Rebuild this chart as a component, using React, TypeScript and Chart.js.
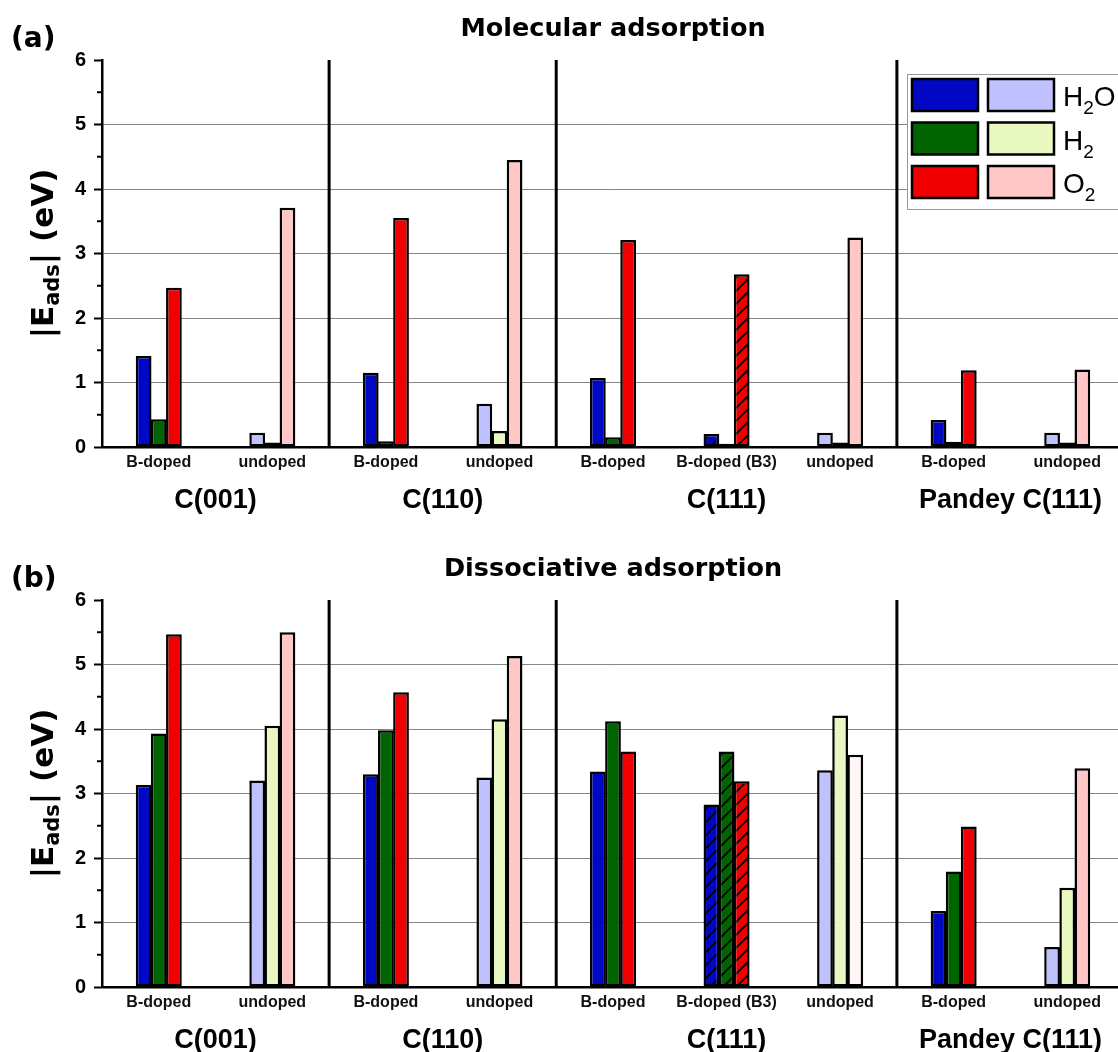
import React, { useEffect, useRef } from 'react';
import { Chart, registerables } from 'chart.js';
Chart.register(...registerables);

// ---------- data ----------
const categories = ['B-doped', 'undoped', 'B-doped', 'undoped', 'B-doped', 'B-doped (B3)', 'undoped', 'B-doped', 'undoped'];
const groups = ['C(001)', 'C(110)', 'C(111)', 'Pandey C(111)'];
const groupSizes = [2, 2, 3, 2];
const yTicks = [0, 1, 2, 3, 4, 5, 6];
const seriesNames = ['H2O', 'H2', 'O2'];
const legendParts = [['H', '2', 'O'], ['H', '2', ''], ['O', '2', '']];

// (a) Molecular adsorption |E_ads| (eV)
const molH2O = [1.41, 0.22, 1.15, 0.67, 1.07, 0.20, 0.22, 0.42, 0.22];
const molH2 = [0.43, 0.07, 0.09, 0.25, 0.15, 0.05, 0.07, 0.08, 0.07];
const molO2 = [2.47, 3.71, 3.55, 4.45, 3.21, 2.68, 3.25, 1.19, 1.20];

// (b) Dissociative adsorption |E_ads| (eV)
const disH2O = [3.13, 3.20, 3.30, 3.25, 3.34, 2.83, 3.36, 1.18, 0.62];
const disH2 = [3.93, 4.05, 3.98, 4.15, 4.12, 3.65, 4.21, 1.79, 1.54];
const disO2 = [5.47, 5.50, 4.57, 5.13, 3.65, 3.19, 3.60, 2.49, 3.39];

// ---------- style ----------
const darkColors = ['#0008c4', '#006400', '#f00000'];
const lightColors = ['#c0c2ff', '#e9f8c0', '#ffc8c6'];
const FONT_BOLD_SANS = '"Liberation Sans", Arial, sans-serif';
const FONT_DEJAVU = '"DejaVu Sans", sans-serif';

function makeHatch(ctx: CanvasRenderingContext2D, color: string) {
  const s = 13;
  const c = document.createElement('canvas');
  c.width = s;
  c.height = s;
  const g = c.getContext('2d')!;
  g.fillStyle = color;
  g.fillRect(0, 0, s, s);
  g.strokeStyle = '#000';
  g.lineWidth = 1.8;
  g.beginPath();
  g.moveTo(0, s);
  g.lineTo(s, 0);
  g.moveTo(-s / 2, s / 2);
  g.lineTo(s / 2, -s / 2);
  g.moveTo(s / 2, s * 1.5);
  g.lineTo(s * 1.5, s / 2);
  g.stroke();
  return ctx.createPattern(c, 'repeat') as CanvasPattern;
}

type PanelProps = {
  top: number;
  tag: string;
  title: string;
  values: number[][];
  showLegend: boolean;
  fadedBars?: Array<[number, number]>;
};

function makeDecor(p: PanelProps) {
  return {
    id: 'decor',
    afterDraw(chart: any) {
      const { ctx, chartArea, scales } = chart;
      const x = scales.x;
      const y = scales.y;
      ctx.save();

      // minor ticks
      ctx.strokeStyle = '#000';
      ctx.lineWidth = 2;
      for (let i = 0; i < yTicks.length - 1; i++) {
        const v = (yTicks[i] + yTicks[i + 1]) / 2;
        const py = y.getPixelForValue(v);
        ctx.beginPath();
        ctx.moveTo(chartArea.left - 5, py);
        ctx.lineTo(chartArea.left, py);
        ctx.stroke();
      }

      // group separators
      ctx.lineWidth = 3;
      let idx = 0;
      const y0 = y.getPixelForValue(yTicks[0]);
      const y1 = y.getPixelForValue(yTicks[yTicks.length - 1]);
      for (let g = 0; g < groupSizes.length - 1; g++) {
        idx += groupSizes[g];
        const px = (x.getPixelForValue(idx - 1) + x.getPixelForValue(idx)) / 2;
        ctx.beginPath();
        ctx.moveTo(px, y0 + 1);
        ctx.lineTo(px, y1);
        ctx.stroke();
      }

      // group labels
      ctx.fillStyle = '#000';
      ctx.font = `bold 27px ${FONT_BOLD_SANS}`;
      ctx.textAlign = 'center';
      ctx.textBaseline = 'middle';
      idx = 0;
      for (let g = 0; g < groups.length; g++) {
        const a = x.getPixelForValue(idx);
        const b = x.getPixelForValue(idx + groupSizes[g] - 1);
        ctx.fillText(groups[g], (a + b) / 2, chartArea.bottom + 54);
        idx += groupSizes[g];
      }

      // title
      ctx.font = `bold 25.5px ${FONT_DEJAVU}`;
      ctx.fillText(p.title, (chartArea.left + chartArea.right) / 2, chartArea.top - 31);

      // panel tag
      ctx.textAlign = 'left';
      ctx.textBaseline = 'alphabetic';
      ctx.font = `bold 28px ${FONT_DEJAVU}`;
      ctx.fillText(p.tag, 11, chartArea.top - 13);

      // y axis title |E_ads| (eV)
      ctx.save();
      ctx.translate(45, (chartArea.top + chartArea.bottom) / 2);
      ctx.rotate(-Math.PI / 2);
      ctx.textBaseline = 'middle';
      const parts = [
        { t: '|E', f: `bold 31px ${FONT_DEJAVU}`, dy: 0 },
        { t: 'ads', f: `bold 21px ${FONT_DEJAVU}`, dy: 9 },
        { t: '| (eV)', f: `bold 31px ${FONT_DEJAVU}`, dy: 0 },
      ];
      let total = 0;
      for (const pt of parts) {
        ctx.font = pt.f;
        total += ctx.measureText(pt.t).width;
      }
      let cx = -total / 2;
      for (const pt of parts) {
        ctx.font = pt.f;
        ctx.fillText(pt.t, cx, pt.dy);
        cx += ctx.measureText(pt.t).width;
      }
      ctx.restore();

      // legend
      if (p.showLegend) {
        const lx = chartArea.right - 217;
        const ly = chartArea.top + 14;
        ctx.fillStyle = '#fff';
        ctx.fillRect(lx, ly, 240, 135);
        ctx.strokeStyle = '#999';
        ctx.lineWidth = 1;
        ctx.strokeRect(lx + 0.5, ly + 0.5, 240, 135);
        for (let r = 0; r < seriesNames.length; r++) {
          const ry = ly + 4 + r * 43.5;
          const sw = [
            { x: lx + 4, c: darkColors[r] },
            { x: lx + 80, c: lightColors[r] },
          ];
          for (const s of sw) {
            ctx.fillStyle = s.c;
            ctx.fillRect(s.x + 1, ry + 1, 66, 32);
            ctx.strokeStyle = '#000';
            ctx.lineWidth = 2.5;
            ctx.strokeRect(s.x + 1, ry + 1, 66, 32);
          }
          const [a, sub, b] = legendParts[r];
          ctx.fillStyle = '#000';
          ctx.textBaseline = 'alphabetic';
          let tx = lx + 156;
          const base = ry + 28;
          ctx.font = `28px ${FONT_BOLD_SANS}`;
          ctx.fillText(a, tx, base);
          tx += ctx.measureText(a).width;
          ctx.font = `19px ${FONT_BOLD_SANS}`;
          ctx.fillText(sub, tx, base + 8);
          tx += ctx.measureText(sub).width;
          ctx.font = `28px ${FONT_BOLD_SANS}`;
          ctx.fillText(b, tx, base);
        }
      }
      ctx.restore();
    },
  };
}

function Panel(p: PanelProps) {
  const ref = useRef<HTMLCanvasElement>(null);
  useEffect(() => {
    const canvas = ref.current!;
    const ctx2d = canvas.getContext('2d')!;
    const datasets = seriesNames.map((name, s) => {
      const bg = categories.map((cat, i) => {
        const doped = cat.startsWith('B-doped');
        const base = doped ? darkColors[s] : lightColors[s];
        if ((p.fadedBars || []).some(([ci, si]) => ci === i && si === s)) return '#fff6f6';
        if (cat.includes('(B3)')) return makeHatch(ctx2d, base);
        return base;
      });
      return {
        label: name,
        data: p.values[s],
        backgroundColor: bg,
        borderColor: '#000',
        borderWidth: 2.5,
        borderSkipped: false as const,
        barPercentage: 1.04,
        categoryPercentage: 0.4,
      };
    });
    const chart = new Chart(canvas, {
      type: 'bar',
      data: { labels: categories, datasets },
      options: {
        responsive: false,
        animation: false,
        layout: { padding: { top: 60, right: 2, bottom: 0, left: 0 } },
        plugins: { legend: { display: false }, tooltip: { enabled: false }, title: { display: false } },
        scales: {
          x: {
            afterFit: (scale: any) => {
              scale.height = 93;
            },
            grid: { display: true, drawOnChartArea: false, drawTicks: false, color: 'rgba(0,0,0,0)' },
            border: { display: true, color: '#000', width: 2.5 },
            ticks: {
              color: '#111',
              font: { family: FONT_BOLD_SANS, size: 16, weight: 'bold' },
              padding: 6,
              maxRotation: 0,
              autoSkip: false,
            },
          },
          y: {
            min: yTicks[0],
            max: yTicks[yTicks.length - 1],
            afterFit: (scale: any) => {
              scale.width = 102;
            },
            grid: {
              color: (c: any) =>
                c.tick && c.tick.value > yTicks[0] && c.tick.value < yTicks[yTicks.length - 1] ? '#858585' : 'rgba(0,0,0,0)',
              lineWidth: 1,
              tickColor: '#000',
              tickWidth: 2,
              tickLength: 8,
            },
            border: { display: true, color: '#000', width: 2.5 },
            ticks: {
              stepSize: 1,
              color: '#000',
              padding: 8,
              font: { family: FONT_BOLD_SANS, size: 20, weight: 'bold' },
            },
          },
        },
      },
      plugins: [makeDecor(p)],
    } as any);
    return () => chart.destroy();
  }, []);
  return (
    <canvas
      ref={ref}
      width={1126}
      height={540}
      style={{ position: 'absolute', left: 0, top: p.top, width: 1126, height: 540 }}
    />
  );
}

export default function App() {
  return (
    <div
      style={{
        position: 'absolute',
        left: 0,
        top: 0,
        width: 1118,
        height: 1052,
        overflow: 'hidden',
        background: '#fff',
      }}
    >
      <Panel top={0} tag="(a)" title="Molecular adsorption" values={[molH2O, molH2, molO2]} showLegend={true} />
      <Panel
        top={540}
        tag="(b)"
        title="Dissociative adsorption"
        values={[disH2O, disH2, disO2]}
        showLegend={false}
        fadedBars={[[6, 2]]}
      />
    </div>
  );
}
